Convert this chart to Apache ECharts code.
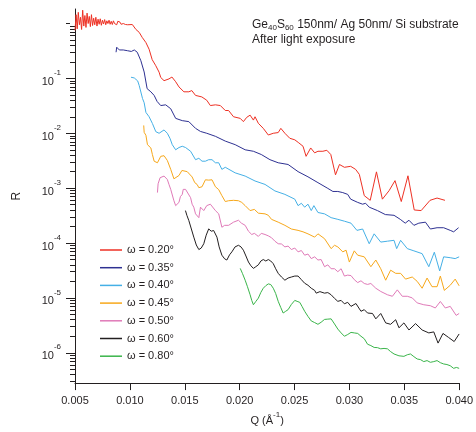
<!DOCTYPE html>
<html>
<head>
<meta charset="utf-8">
<script src="https://cdn.jsdelivr.net/npm/echarts@6/dist/echarts.min.js"></script>
<style>html,body{margin:0;padding:0;background:#fff}#c{width:476px;height:432px}</style>
</head>
<body>
<div id="c"></div>
<script>
// ---- data: [Q (1/Å), R] ----
const seriesNames = ['ω = 0.20°','ω = 0.35°','ω = 0.40°','ω = 0.45°','ω = 0.50°','ω = 0.60°','ω = 0.80°'];
const xTicks = [0.005,0.010,0.015,0.020,0.025,0.030,0.035,0.040];
const yTickExponents = [-6,-5,-4,-3,-2,-1,0];

const w020Q = [0.0050,0.0051,0.0052,0.0053,0.0054,0.0055,0.0056,0.0057,0.0058,0.0059,0.0060,0.0061,0.0062,0.0063,0.0064,0.0065,0.0066,0.0067,0.0068,0.0069,0.0070,0.0071,0.0072,0.0073,0.0074,0.0075,0.0076,0.0077,0.0078,0.0079,0.0080,0.0081,0.0082,0.0083,0.0084,0.0085,0.0086,0.0087,0.0088,0.0089,0.0090,0.0091,0.0092,0.0093,0.0094,0.0095,0.0096,0.0097,0.0098];
const w020R = [0.75,1.45,0.80,1.60,0.95,1.30,0.78,1.75,0.90,1.40,0.85,1.55,1.00,1.35,0.88,1.45,0.92,1.25,0.95,1.30,0.90,1.20,0.97,1.22,0.93,1.15,0.98,1.18,0.95,1.12,1.00,1.15,0.97,1.10,0.96,1.12,1.00,1.08,0.95,1.10,1.02,1.06,0.97,1.05,1.00,1.03,0.96,0.98,0.95];
const w020Tail = [[0.01022,0.96],[0.01055,0.78],[0.01085,0.69],[0.01112,0.56],[0.01146,0.45],[0.01175,0.34],[0.01203,0.22],[0.01236,0.17],[0.01266,0.13],[0.01281,0.104],[0.01311,0.091],[0.01356,0.098],[0.01383,0.106],[0.01417,0.087],[0.01447,0.070],[0.01492,0.057],[0.01537,0.057],[0.01564,0.060],[0.01598,0.049],[0.01655,0.046],[0.01700,0.040],[0.01733,0.032],[0.01779,0.033],[0.01824,0.032],[0.01869,0.026],[0.01899,0.026],[0.01944,0.020],[0.02005,0.0187],[0.02034,0.0163],[0.02064,0.0195],[0.02095,0.0214],[0.02125,0.0174],[0.02140,0.020],[0.02170,0.0152],[0.02215,0.0123],[0.02261,0.0093],[0.02306,0.0100],[0.02351,0.0103],[0.02375,0.0123],[0.02412,0.0100],[0.02457,0.0081],[0.02502,0.0076],[0.02538,0.0067],[0.02577,0.0058],[0.02605,0.0038],[0.02647,0.0054],[0.02683,0.0044],[0.02713,0.0047],[0.02758,0.0047],[0.02794,0.0049],[0.02830,0.0041],[0.02873,0.00175],[0.02909,0.0027],[0.02954,0.0024],[0.03011,0.0025],[0.03056,0.0022],[0.03090,0.00178],[0.03135,0.00073],[0.03189,0.00060],[0.03246,0.00198],[0.03300,0.00063],[0.03361,0.00090],[0.03415,0.00137],[0.03472,0.00057],[0.03533,0.00168],[0.03590,0.00040],[0.03653,0.00039],[0.03734,0.00060],[0.03798,0.00066],[0.03870,0.00060]];

const w035 = [[0.00874,0.30],[0.00880,0.37],[0.00904,0.33],[0.00922,0.35],[0.00940,0.33],[0.00958,0.34],[0.00977,0.32],[0.00995,0.33],[0.01013,0.31],[0.01031,0.32],[0.01040,0.33],[0.01067,0.30],[0.01100,0.21],[0.01130,0.131],[0.01157,0.065],[0.01191,0.057],[0.01221,0.049],[0.01248,0.038],[0.01281,0.032],[0.01326,0.033],[0.01372,0.028],[0.01417,0.0187],[0.01477,0.017],[0.01537,0.0163],[0.01598,0.0123],[0.01643,0.0108],[0.01700,0.0100],[0.01779,0.0088],[0.01869,0.0072],[0.01959,0.0062],[0.02050,0.0050],[0.02125,0.0047],[0.02197,0.0041],[0.02276,0.0033],[0.02351,0.0029],[0.02441,0.0027],[0.02532,0.0020],[0.02622,0.00161],[0.02713,0.00126],[0.02803,0.00099],[0.02849,0.00087],[0.02894,0.00087],[0.02939,0.00083],[0.02984,0.00077],[0.03011,0.00063],[0.03075,0.00055],[0.03120,0.00051],[0.03147,0.00053],[0.03180,0.00045],[0.03255,0.00039],[0.03327,0.00033],[0.03406,0.00032],[0.03463,0.00027],[0.03508,0.00023],[0.03542,0.00026],[0.03587,0.00021],[0.03632,0.00023],[0.03692,0.00024],[0.03737,0.00018],[0.03798,0.00019],[0.03858,0.00019],[0.03918,0.00017],[0.03949,0.00016],[0.03994,0.00019]];

const w040 = [[0.01010,0.105],[0.01022,0.110],[0.01040,0.102],[0.01055,0.098],[0.01071,0.090],[0.01085,0.074],[0.01100,0.074],[0.01115,0.043],[0.01130,0.036],[0.01146,0.024],[0.01175,0.020],[0.01191,0.0187],[0.01205,0.0151],[0.01221,0.0141],[0.01236,0.0107],[0.01251,0.0107],[0.01266,0.0100],[0.01281,0.0100],[0.01311,0.0115],[0.01341,0.0100],[0.01365,0.0081],[0.01386,0.0062],[0.01417,0.0050],[0.01447,0.0055],[0.01477,0.0058],[0.01507,0.0055],[0.01553,0.0047],[0.01598,0.0033],[0.01628,0.0035],[0.01657,0.0031],[0.01688,0.0031],[0.01718,0.0033],[0.01748,0.0033],[0.01779,0.0029],[0.01809,0.0029],[0.01838,0.0022],[0.01869,0.0024],[0.01959,0.0019],[0.02050,0.00166],[0.02140,0.00135],[0.02231,0.00117],[0.02321,0.00089],[0.02412,0.00077],[0.02502,0.00063],[0.02532,0.00048],[0.02562,0.00053],[0.02592,0.00045],[0.02622,0.00051],[0.02652,0.00039],[0.02676,0.00048],[0.02713,0.00036],[0.02773,0.00034],[0.02833,0.00029],[0.02894,0.00027],[0.02954,0.00025],[0.03014,0.00023],[0.03068,0.00017],[0.03120,0.00018],[0.03180,0.000097],[0.03225,0.000147],[0.03285,0.000104],[0.03346,0.000108],[0.03406,0.000112],[0.03430,0.000079],[0.03466,0.000112],[0.03527,0.000079],[0.03587,0.000072],[0.03662,0.000064],[0.03723,0.000037],[0.03773,0.000068],[0.03822,0.000031],[0.03858,0.000056],[0.03918,0.000054],[0.03963,0.000052],[0.03999,0.000056]];

const w045 = [[0.01126,0.0139],[0.01130,0.0104],[0.01146,0.0092],[0.01160,0.0062],[0.01175,0.0063],[0.01191,0.0054],[0.01205,0.0041],[0.01221,0.0031],[0.01251,0.0029],[0.01266,0.0031],[0.01281,0.0038],[0.01311,0.0039],[0.01341,0.0032],[0.01372,0.0022],[0.01401,0.00148],[0.01417,0.00145],[0.01447,0.0017],[0.01474,0.0021],[0.01492,0.0022],[0.01522,0.0020],[0.01537,0.0021],[0.01567,0.0016],[0.01591,0.00126],[0.01612,0.00117],[0.01628,0.00102],[0.01657,0.00106],[0.01688,0.00142],[0.01718,0.0014],[0.01748,0.00142],[0.01779,0.00106],[0.01793,0.0011],[0.01809,0.00094],[0.01838,0.00073],[0.01869,0.00057],[0.01899,0.00059],[0.01944,0.0006],[0.01989,0.00059],[0.02019,0.00055],[0.02050,0.00048],[0.02095,0.00039],[0.02134,0.00041],[0.02170,0.00035],[0.02231,0.00034],[0.02261,0.00032],[0.02290,0.00027],[0.02351,0.00024],[0.02412,0.00021],[0.02471,0.00018],[0.02532,0.00017],[0.02577,0.00016],[0.02622,0.000147],[0.02683,0.000128],[0.02713,0.000147],[0.02773,0.000120],[0.02833,0.000079],[0.02864,0.000091],[0.02894,0.000085],[0.02939,0.000069],[0.02969,0.000074],[0.02999,0.000045],[0.03044,0.000072],[0.03075,0.000060],[0.03135,0.000056],[0.03195,0.000037],[0.03240,0.000049],[0.03285,0.000034],[0.03330,0.000021],[0.03375,0.000032],[0.03421,0.000028],[0.03466,0.000028],[0.03511,0.000022],[0.03572,0.000024],[0.03617,0.000020],[0.03662,0.000015],[0.03707,0.000023],[0.03752,0.000016],[0.03798,0.000016],[0.03828,0.000025],[0.03864,0.0000137],[0.03918,0.000017],[0.03963,0.000022],[0.03999,0.0000166]];

const w050 = [[0.01251,0.00083],[0.01257,0.0012],[0.01275,0.00155],[0.01293,0.00148],[0.01311,0.00166],[0.01341,0.00144],[0.01356,0.00117],[0.01372,0.00095],[0.01401,0.00059],[0.01417,0.00048],[0.01447,0.00055],[0.01460,0.0007],[0.01477,0.00077],[0.01486,0.00095],[0.01507,0.00095],[0.01522,0.00089],[0.01553,0.00067],[0.01567,0.00051],[0.01582,0.00045],[0.01598,0.00034],[0.01628,0.00029],[0.01643,0.00045],[0.01673,0.00039],[0.01700,0.00048],[0.01733,0.00051],[0.01779,0.00039],[0.01809,0.00034],[0.01838,0.000194],[0.01863,0.00021],[0.01899,0.00021],[0.01944,0.00024],[0.01989,0.00026],[0.02016,0.00023],[0.02050,0.00021],[0.02080,0.000164],[0.02110,0.000143],[0.02134,0.00015],[0.02170,0.000132],[0.02197,0.00015],[0.02231,0.000143],[0.02261,0.000135],[0.02290,0.000125],[0.02321,0.000108],[0.02351,0.000097],[0.02381,0.000096],[0.02412,0.000085],[0.02441,0.000088],[0.02471,0.000076],[0.02502,0.000081],[0.02532,0.000069],[0.02562,0.000073],[0.02592,0.000060],[0.02622,0.000063],[0.02652,0.000052],[0.02683,0.000056],[0.02713,0.000049],[0.02742,0.000050],[0.02773,0.000037],[0.02803,0.000040],[0.02833,0.000034],[0.02864,0.000034],[0.02894,0.000030],[0.02924,0.000034],[0.02954,0.000025],[0.02984,0.000026],[0.03014,0.0000255],[0.03044,0.0000215],[0.03075,0.000019],[0.03105,0.0000205],[0.03135,0.0000183],[0.03165,0.0000176],[0.03195,0.0000183],[0.03240,0.000015],[0.03285,0.0000131],[0.03346,0.0000114],[0.03391,0.0000107],[0.03436,0.000014],[0.03481,0.0000107],[0.03527,0.0000107],[0.03572,0.00001],[0.03617,0.0000081],[0.03677,0.0000075],[0.03737,0.0000072],[0.03782,0.00000655],[0.03828,0.0000086],[0.03873,0.00000655],[0.03918,0.000007],[0.03972,0.0000048],[0.03999,0.0000052]];

const w060 = [[0.01506,0.00039],[0.01519,0.00032],[0.01537,0.000256],[0.01560,0.00018],[0.01582,0.000128],[0.01605,0.000092],[0.01628,0.000076],[0.01650,0.000081],[0.01673,0.000097],[0.01695,0.000139],[0.01718,0.000181],[0.01741,0.000164],[0.01763,0.000169],[0.01793,0.000128],[0.01813,0.000085],[0.01838,0.000060],[0.01863,0.0000515],[0.01883,0.000049],[0.01908,0.000061],[0.01929,0.000069],[0.01958,0.000085],[0.01989,0.000091],[0.02012,0.000085],[0.02034,0.000074],[0.02057,0.000058],[0.02080,0.000045],[0.02102,0.0000385],[0.02125,0.0000345],[0.02147,0.000037],[0.02170,0.000040],[0.02193,0.000047],[0.02215,0.000050],[0.02238,0.000047],[0.02261,0.000050],[0.02283,0.000047],[0.02306,0.000042],[0.02328,0.000034],[0.02351,0.000028],[0.02381,0.000024],[0.02412,0.000021],[0.02441,0.000023],[0.02471,0.000024],[0.02502,0.000025],[0.02532,0.000025],[0.02562,0.0000215],[0.02592,0.0000185],[0.02622,0.000017],[0.02652,0.000015],[0.02683,0.0000137],[0.02697,0.0000122],[0.02731,0.000013],[0.02773,0.0000122],[0.02803,0.0000125],[0.02833,0.0000114],[0.02864,0.0000098],[0.02894,0.00000865],[0.02924,0.000009],[0.02954,0.0000078],[0.02984,0.0000083],[0.03014,0.000007],[0.03059,0.0000079],[0.03105,0.0000057],[0.03135,0.0000061],[0.03165,0.0000053],[0.03210,0.0000052],[0.03240,0.00000415],[0.03285,0.0000052],[0.03330,0.0000035],[0.03375,0.0000033],[0.03421,0.000004],[0.03451,0.00000285],[0.03496,0.0000035],[0.03542,0.0000026],[0.03602,0.0000034],[0.03662,0.0000026],[0.03723,0.0000023],[0.03768,0.0000024],[0.03807,0.0000015],[0.03852,0.00000225],[0.03903,0.0000019],[0.03954,0.0000016],[0.03999,0.0000022]];

const w080 = [[0.02005,0.0000345],[0.02025,0.000028],[0.02050,0.000021],[0.02071,0.000016],[0.02095,0.0000114],[0.02110,0.000009],[0.02125,0.0000075],[0.02147,0.0000086],[0.02170,0.0000099],[0.02193,0.0000126],[0.02215,0.000015],[0.02238,0.0000167],[0.02261,0.000018],[0.02283,0.0000175],[0.02306,0.000015],[0.02328,0.000012],[0.02351,0.00000865],[0.02374,0.0000067],[0.02396,0.0000053],[0.02419,0.0000057],[0.02441,0.0000061],[0.02471,0.0000076],[0.02502,0.000009],[0.02523,0.00000865],[0.02547,0.0000083],[0.02568,0.000007],[0.02592,0.0000057],[0.02622,0.0000046],[0.02652,0.0000038],[0.02683,0.00000355],[0.02713,0.0000033],[0.02742,0.0000036],[0.02773,0.00000405],[0.02803,0.0000041],[0.02833,0.00000415],[0.02864,0.00000335],[0.02894,0.0000027],[0.02924,0.0000023],[0.02954,0.000002],[0.02984,0.00000215],[0.03014,0.00000235],[0.03044,0.0000023],[0.03075,0.00000225],[0.03105,0.000002],[0.03135,0.0000018],[0.03165,0.00000143],[0.03195,0.00000135],[0.03225,0.00000125],[0.03255,0.00000124],[0.03285,0.00000118],[0.03315,0.0000012],[0.03346,0.00000118],[0.03375,0.00000105],[0.03406,0.00000095],[0.03451,0.00000088],[0.03496,0.00000086],[0.03527,0.00000092],[0.03556,0.00000095],[0.03587,0.00000085],[0.03617,0.00000077],[0.03647,0.00000075],[0.03677,0.00000069],[0.03707,0.00000072],[0.03737,0.00000067],[0.03768,0.00000069],[0.03798,0.00000072],[0.03828,0.00000066],[0.03858,0.000000625],[0.03888,0.00000061],[0.03918,0.00000058],[0.03949,0.00000052],[0.03974,0.00000054],[0.03999,0.00000052]];

const colors = ['#ee3124','#2e3192','#45b0e6','#f7a81b','#e07ab8','#231f20','#3ab54a'];

// ---- build ----
const w020 = w020Q.map((q,i)=>[q,w020R[i]]).concat(w020Tail);
const allData = [w020,w035,w040,w045,w050,w060,w080];
const toLog = d => d.map(p => [p[0], Math.log10(p[1])]);

const Y_MIN = -6.553, Y_MAX = 0.265;
const allTicks = [];
for (let e = -7; e <= 0; e++) for (let k = 1; k <= 9; k++) {
  const v = e + Math.log10(k);
  if (v > Y_MIN && v < Y_MAX) allTicks.push(v);
}
const isMajor = v => Math.abs(v - Math.round(v)) < 1e-9;
const FONT = 'Liberation Sans, Arial, sans-serif';
const TXT = '#231f20';

const chart = echarts.init(document.getElementById('c'), null, {renderer:'canvas'});
chart.setOption({
  animation:false,
  backgroundColor:'#fff',
  textStyle:{fontFamily:FONT,color:TXT},
  grid:{left:75,right:13,top:9,bottom:44},
  title:{
    left:252, top:17, padding:0,
    text:'{n|Ge}{d|40}{n|S}{d|60}{n| 150nm/ Ag 50nm/ Si substrate}\n{n|After light exposure}',
    textStyle:{fontFamily:FONT,fontWeight:'normal',color:TXT,fontSize:12,lineHeight:15,
      rich:{
        n:{fontFamily:FONT,fontSize:12,color:TXT,lineHeight:15},
        d:{fontFamily:FONT,fontSize:8,color:TXT,lineHeight:9,verticalAlign:'bottom'}
      }}
  },
  legend:{
    orient:'vertical', left:100, top:243, padding:0,
    itemWidth:22, itemHeight:1.5, itemGap:3.7, icon:'rect',
    textStyle:{fontFamily:FONT,fontSize:11,color:TXT,lineHeight:14},
    data:seriesNames
  },
  xAxis:{
    type:'value', min:xTicks[0], max:xTicks[xTicks.length-1], interval:0.005,
    name:'{a|Q (Å}{s|-1}{a|)}', nameLocation:'middle', nameGap:29,
    nameTextStyle:{rich:{
      a:{fontFamily:FONT,fontSize:11,color:TXT,lineHeight:12,padding:[4,0,0,0]},
      s:{fontFamily:FONT,fontSize:8,color:TXT,lineHeight:8,padding:[0,0,8,0]}
    }},
    axisLine:{show:true,onZero:false,lineStyle:{color:'#231f20',width:1}},
    axisTick:{show:true,length:7,lineStyle:{color:'#231f20'}},
    axisLabel:{margin:12,fontSize:11,color:TXT,fontFamily:FONT,formatter:v=>v.toFixed(3)},
    splitLine:{show:false}
  },
  yAxis:[{
    type:'value', min:Y_MIN, max:Y_MAX,
    name:'R', nameLocation:'middle', nameGap:52, nameRotate:90,
    nameTextStyle:{fontFamily:FONT,fontSize:12,color:TXT},
    axisLine:{show:true,onZero:false,lineStyle:{color:'#231f20',width:1}},
    axisTick:{show:true,length:5,customValues:allTicks,lineStyle:{color:'#231f20'}},
    axisLabel:{margin:14,customValues:allTicks,hideOverlap:false,
      formatter:v=>isMajor(v) ? '{b|10}{s|'+Math.round(v)+'}' : '{h|.}',
      rich:{
        b:{fontFamily:FONT,fontSize:11,color:TXT,lineHeight:12,padding:[7,0,0,0]},
        s:{fontFamily:FONT,fontSize:8,color:TXT,lineHeight:8,padding:[0,0,11,0]},
        h:{fontFamily:FONT,fontSize:1,lineHeight:1,color:'rgba(255,255,255,0)'}
      }},
    splitLine:{show:false}
  },{
    type:'value', min:Y_MIN, max:Y_MAX, position:'left', offset:5,
    axisLine:{show:true,onZero:false,lineStyle:{color:'rgba(0,0,0,0)',width:1}},
    axisTick:{show:true,length:4,customValues:yTickExponents,lineStyle:{color:'#231f20'}},
    axisLabel:{show:true,customValues:yTickExponents,formatter:()=>'{h|.}',
      rich:{h:{fontSize:1,lineHeight:1,color:'rgba(255,255,255,0)'}}},
    splitLine:{show:false}
  }],
  series: allData.map((d,i)=>({
    name:seriesNames[i], type:'line', data:toLog(d), yAxisIndex:0,
    showSymbol:false, symbol:'none', smooth:false,
    lineStyle:{width:1,color:colors[i]}, itemStyle:{color:colors[i]},
    z: 10 - i
  }))
});
</script>
</body>
</html>
